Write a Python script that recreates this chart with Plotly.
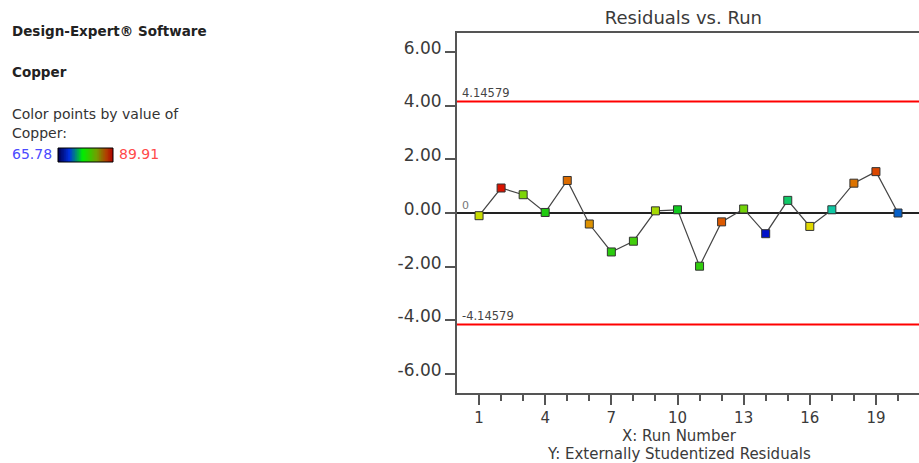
import numpy as np
import plotly.graph_objects as go

# ---- data ----
runs = list(range(1, 21))
residuals = [-0.10, 0.93, 0.68, 0.02, 1.21, -0.41, -1.45, -1.05, 0.08, 0.12,
             -1.98, -0.33, 0.15, -0.77, 0.47, -0.50, 0.12, 1.11, 1.54, 0.00]
copper = [83.2, 89.4, 81.0, 78.3, 87.0, 86.0, 78.6, 79.3, 82.2, 77.4,
          78.8, 87.5, 80.7, 66.3, 75.0, 84.1, 73.0, 86.8, 88.0, 68.7]
copper_min, copper_max = 65.78, 89.91
limit = 4.14579
x_tickvals = [1, 4, 7, 10, 13, 16, 19]
y_tickvals = [-6, -4, -2, 0, 2, 4, 6]
y_ticktext = ["-6.00", "-4.00", "-2.00", "0.00", "2.00", "4.00", "6.00"]

W, H = 919, 463
L, T, B = 457, 33, 70
PW, PH = W - L, H - T - B
FONT = "DejaVu Sans"
TXT = "#3a3a3a"


def px2x(px):
    return px / W


def py2y(py):
    return 1 - py / H


point_scale = [[0, "#0000c8"], [0.25, "#10c8c8"], [0.5, "#10c810"],
               [0.75, "#e0e000"], [1, "#d80000"]]
bar_scale = [[0, "#000050"], [0.2, "#0030e0"], [0.45, "#00ee00"],
             [0.7, "#70a000"], [0.88, "#b04000"], [1, "#b00000"]]

fig = go.Figure()

fig.add_trace(go.Scatter(
    x=runs, y=residuals, mode="lines+markers",
    line=dict(color="#444444", width=1.2),
    marker=dict(symbol="square", size=8, color=copper, cmin=copper_min,
                cmax=copper_max, colorscale=point_scale,
                line=dict(color="#333333", width=1)),
    showlegend=False, hoverinfo="x+y", cliponaxis=False,
))

# gradient legend bar
fig.add_trace(go.Heatmap(
    z=[list(np.linspace(copper_min, copper_max, 80))],
    colorscale=bar_scale, showscale=False, xaxis="x2", yaxis="y2",
    hoverinfo="skip",
))

shapes = [
    dict(type="line", xref="x domain", yref="y", x0=0, x1=1, y0=limit, y1=limit,
         line=dict(color="#ff0000", width=2)),
    dict(type="line", xref="x domain", yref="y", x0=0, x1=1, y0=-limit, y1=-limit,
         line=dict(color="#ff0000", width=2)),
    dict(type="line", xref="x domain", yref="y", x0=0, x1=1, y0=0, y1=0,
         line=dict(color="#222222", width=2), layer="below"),
    dict(type="rect", xref="paper", yref="paper",
         x0=px2x(58), x1=px2x(113), y0=py2y(162), y1=py2y(148),
         line=dict(color="#000000", width=1)),
]

ann = []


def txt(text, px, py, size=12, color=TXT, xanchor="left", bold=False, yanchor="middle"):
    ann.append(dict(text=f"<b>{text}</b>" if bold else text, xref="paper", yref="paper",
                    x=px2x(px), y=py2y(py), xanchor=xanchor, yanchor=yanchor,
                    showarrow=False, font=dict(family=FONT, size=size, color=color)))


txt("Design-Expert® Software", 10, 31, 13.5, "#222222", bold=True)
txt("Copper", 10, 72, 13.5, "#222222", bold=True)
txt("Color points by value of", 10, 114, 14, "#333333")
txt("Copper:", 10, 133, 14, "#333333")
txt(f"{copper_min:.2f}", 10, 154, 14, "#4a4aff")
txt(f"{copper_max:.2f}", 117, 154, 14, "#ff4a4a")
txt(f"{limit:.5f}", 460, 93, 11.5, "#444444")
txt(f"-{limit:.5f}", 460, 316, 11.5, "#444444")
txt("0", 460, 205, 11, "#777777")
txt("X: Run Number", 679, 436.2, 15, TXT, xanchor="center")
txt("Y: Externally Studentized Residuals", 679, 453.6, 15, TXT, xanchor="center")

fig.update_layout(
    width=W, height=H,
    margin=dict(l=0, r=0, t=0, b=0, pad=0),
    paper_bgcolor="white", plot_bgcolor="white",
    title=dict(text="Residuals vs. Run", x=(L + W) / 2 / W - 0.005, xref="paper", y=1 - 18 / H,
               yref="container", xanchor="center", yanchor="middle",
               font=dict(family=FONT, size=18, color=TXT)),
    xaxis=dict(domain=[L / W, 1], range=[0, PW / 22.05], tickvals=x_tickvals, ticks="outside",
               ticklen=10, tickwidth=1.5, tickcolor="#555555",
               minor=dict(tickvals=runs, ticks="outside", ticklen=6,
                          tickwidth=1.5, tickcolor="#555555"),
               showline=True, linecolor="#555555", linewidth=2, mirror=True,
               showgrid=False, zeroline=False,
               tickfont=dict(family=FONT, size=15, color=TXT)),
    yaxis=dict(domain=[B / H, 1 - T / H], range=[-6.7, 6.7], tickvals=y_tickvals,
               ticktext=y_ticktext,
               ticks="outside", ticklen=10, tickwidth=1.5, tickcolor="#555555",
               showline=True, linecolor="#555555", linewidth=2,
               showgrid=False, zeroline=False, ticklabelshift=-4,
               tickfont=dict(family=FONT, size=17, color=TXT)),
    xaxis2=dict(domain=[px2x(58), px2x(113)], anchor="y2", visible=False),
    yaxis2=dict(domain=[py2y(162), py2y(148)], anchor="x2", visible=False),
    shapes=shapes, annotations=ann,
)

fig.write_html("out.html", config={"displayModeBar": False},
               post_script="document.body.style.margin='0';"
                           "document.body.style.overflow='hidden';")
